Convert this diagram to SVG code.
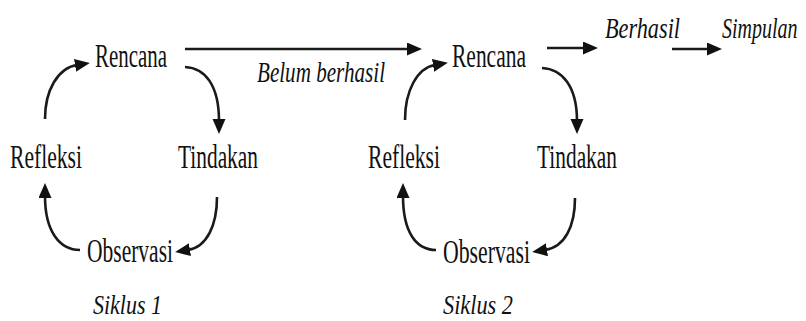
<svg xmlns="http://www.w3.org/2000/svg" width="806" height="321" viewBox="0 0 806 321">
<defs>
<marker id="ah" markerUnits="userSpaceOnUse" markerWidth="16" markerHeight="14" refX="2" refY="6.5" orient="auto">
<path d="M0,0 L15,6.5 L0,13 z" fill="#111"/>
</marker>
<style>
.n{font-family:"Liberation Serif","Times New Roman",serif;font-size:33px;fill:#111}
.i{font-family:"Liberation Serif","Times New Roman",serif;font-size:29px;font-style:italic;fill:#111}
.s{font-size:27px}
.c{fill:none;stroke:#1a1a1a;stroke-width:2.6;marker-end:url(#ah)}
</style>
</defs>
<rect width="806" height="321" fill="#fff"/>
<g id="connectors">
<path class="c" d="M45,119 C45,90 58,68 77,65"/>
<path class="c" d="M185,67 C205,68 219,85 219,121"/>
<path class="c" d="M217,197 C217,225 207,247 188,250"/>
<path class="c" d="M80,250 C60,250 45,232 45,196"/>
<path class="c" d="M185,49 L409,49"/>
<path class="c" d="M405,120 C405,91 417,68 435,65"/>
<path class="c" d="M542,68 C562,69 577,86 577,121"/>
<path class="c" d="M575,198 C575,226 565,247 545,250"/>
<path class="c" d="M436,250 C416,250 403,232 403,196"/>
<path class="c" d="M547,48 L585,48"/>
<path class="c" d="M672,49 L709,49"/>
</g>
<g id="rencana1"><text class="n" x="95" y="67" textLength="72" lengthAdjust="spacingAndGlyphs">Rencana</text></g>
<g id="refleksi1"><text class="n" x="10" y="168" textLength="72" lengthAdjust="spacingAndGlyphs">Refleksi</text></g>
<g id="tindakan1"><text class="n" x="178" y="168" textLength="80" lengthAdjust="spacingAndGlyphs">Tindakan</text></g>
<g id="observasi1"><text class="n" x="87" y="262" textLength="86" lengthAdjust="spacingAndGlyphs">Observasi</text></g>
<g id="siklus1"><text class="i s" x="93" y="314" textLength="69" lengthAdjust="spacingAndGlyphs">Siklus 1</text></g>
<g id="belum"><text class="i" x="257" y="82" textLength="128" lengthAdjust="spacingAndGlyphs">Belum berhasil</text></g>
<g id="rencana2"><text class="n" x="452" y="67" textLength="74" lengthAdjust="spacingAndGlyphs">Rencana</text></g>
<g id="refleksi2"><text class="n" x="368" y="168" textLength="72" lengthAdjust="spacingAndGlyphs">Refleksi</text></g>
<g id="tindakan2"><text class="n" x="537" y="168" textLength="80" lengthAdjust="spacingAndGlyphs">Tindakan</text></g>
<g id="observasi2"><text class="n" x="443" y="263" textLength="87" lengthAdjust="spacingAndGlyphs">Observasi</text></g>
<g id="siklus2"><text class="i s" x="443" y="314" textLength="70" lengthAdjust="spacingAndGlyphs">Siklus 2</text></g>
<g id="berhasil"><text class="i" x="605" y="38" textLength="75" lengthAdjust="spacingAndGlyphs">Berhasil</text></g>
<g id="simpulan"><text class="i" transform="translate(722,38) scale(0.69,1)" x="0" y="0">Simpulan</text></g>
</svg>
